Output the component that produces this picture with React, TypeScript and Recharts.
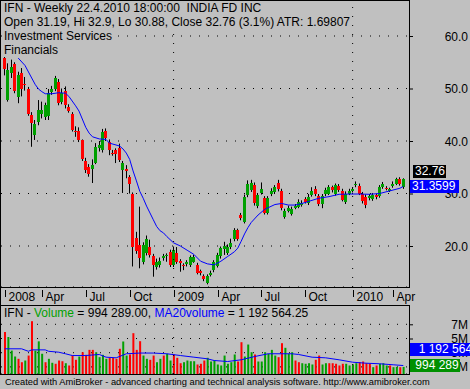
import React from "react";
import {
  ComposedChart,
  Bar,
  Line,
  XAxis,
  YAxis,
  CartesianGrid,
  ReferenceLine,
  Cell,
} from "recharts";

// weekly candles, Jan 2008 .. 22.4.2010
const opens = [
  55.9, 47.9, 53.0, 54.7, 48.4, 53.0, 50.8, 49.85, 44.9, 41.1,
  43.7, 45.1, 44.6, 44.7, 49.3, 49.9, 51.3, 47.5, 49.6, 46.5,
  45.1, 42.0, 42.0, 40.1, 36.1, 35.0, 34.6, 35.9, 38.7, 38.3,
  42.0, 39.9, 37.7, 38.3, 38.7, 34.5, 34.6, 33.2, 29.85, 21.5,
  20.2, 17.0, 18.6, 19.9, 18.1, 16.05, 16.3, 17.65, 18.1, 18.9,
  16.4, 18.7, 17.1, 16.4, 16.5, 16.4, 17.0, 16.4, 15.2, 14.3,
  13.0, 14.5, 15.4, 16.2, 18.0, 19.4, 18.6, 19.75, 21.3, 23.0,
  25.9, 24.6, 29.7, 30.7, 31.6, 27.6, 30.15, 29.1, 26.35, 29.85,
  30.2, 32.05, 30.5, 25.6, 26.7, 26.1, 27.3, 27.5, 27.8, 28.9,
  28.1, 29.7, 30.8, 29.5, 28.0, 29.85, 30.0, 31.2, 29.85, 31.4,
  30.5, 28.4, 30.0, 30.5, 31.75, 31.4, 30.0, 29.4, 29.1, 28.9,
  29.7, 29.5, 31.2, 31.0, 30.55, 31.4, 31.9, 32.7, 31.19,
];
const highs = [
  56.2, 54.8, 55.5, 55.0, 53.2, 53.9, 52.2, 50.3, 45.5, 44.0,
  47.8, 47.5, 47.3, 49.9, 50.5, 52.4, 51.8, 50.0, 50.4, 47.0,
  45.5, 42.8, 42.6, 40.3, 36.8, 35.6, 36.5, 39.6, 40.0, 42.3,
  42.4, 40.3, 38.3, 38.6, 39.5, 36.2, 35.4, 33.5, 30.2, 22.7,
  27.5, 20.7, 22.0, 21.2, 18.5, 17.6, 17.8, 18.5, 18.6, 19.3,
  19.9, 19.8, 17.5, 16.7, 17.3, 18.2, 18.3, 16.8, 15.5, 14.6,
  14.6, 15.3, 17.3, 18.7, 19.9, 20.8, 20.3, 21.4, 23.4, 23.3,
  26.3, 29.8, 32.5, 32.6, 32.1, 30.1, 32.1, 29.5, 29.5, 31.0,
  31.6, 32.6, 30.9, 27.1, 27.7, 27.5, 28.0, 28.9, 28.7, 29.3,
  29.9, 31.2, 31.4, 29.9, 29.9, 31.1, 31.6, 31.5, 31.9, 31.8,
  30.9, 30.4, 30.9, 31.2, 32.3, 31.9, 30.3, 29.8, 29.9, 30.1,
  30.0, 31.6, 32.2, 31.4, 31.1, 32.3, 33.0, 33.1, 32.9,
];
const lows = [
  52.5, 47.5, 52.0, 49.1, 47.2, 48.5, 49.6, 44.8, 38.9, 40.2,
  43.0, 44.3, 44.0, 44.0, 48.8, 49.5, 46.8, 47.0, 46.2, 45.4,
  41.8, 40.8, 39.8, 36.2, 33.9, 33.2, 32.0, 35.6, 38.0, 37.8,
  40.0, 37.3, 37.2, 35.8, 36.0, 30.1, 32.9, 30.0, 16.1, 18.5,
  15.75, 16.5, 18.2, 17.8, 14.15, 15.5, 15.9, 17.2, 17.0, 16.0,
  16.0, 16.6, 15.1, 15.4, 16.1, 16.0, 16.8, 14.6, 14.4, 13.3,
  12.7, 14.2, 15.0, 15.9, 17.6, 18.3, 18.3, 19.4, 20.9, 21.0,
  24.9, 24.3, 29.3, 30.3, 27.7, 27.2, 29.8, 26.0, 26.0, 29.5,
  29.9, 30.4, 26.8, 25.2, 26.4, 25.8, 27.0, 27.2, 27.5, 28.1,
  27.8, 29.4, 29.5, 27.6, 27.2, 29.5, 29.7, 30.2, 29.6, 30.3,
  28.5, 28.0, 29.7, 30.2, 31.2, 29.7, 28.1, 27.2, 28.7, 28.6,
  28.9, 29.2, 30.9, 30.6, 30.3, 31.1, 31.6, 31.5, 30.88,
];
const closes = [
  53.7, 53.5, 54.1, 49.5, 52.6, 49.85, 50.6, 45.1, 43.5, 43.2,
  45.9, 46.0, 46.9, 49.2, 49.9, 52.0, 47.2, 49.2, 46.9, 45.8,
  42.1, 41.7, 40.1, 36.5, 34.5, 33.7, 35.4, 38.9, 39.2, 41.8,
  40.5, 38.3, 37.6, 37.5, 36.4, 35.8, 34.2, 31.9, 19.9, 19.1,
  17.65, 20.2, 21.3, 18.3, 16.4, 16.95, 17.2, 18.1, 18.2, 16.4,
  19.2, 17.0, 16.8, 16.1, 16.9, 17.85, 17.85, 14.9, 14.8, 13.7,
  14.3, 14.9, 17.0, 18.3, 19.55, 20.0, 19.75, 20.6, 23.0, 21.3,
  25.3, 29.4, 31.8, 31.95, 28.1, 29.7, 30.8, 26.35, 29.1, 30.5,
  31.2, 30.8, 27.2, 26.7, 27.2, 27.0, 27.6, 28.45, 28.25, 28.45,
  29.4, 30.5, 29.85, 28.0, 29.5, 30.7, 31.3, 30.6, 31.6, 30.65,
  28.8, 30.0, 30.5, 30.85, 31.8, 30.0, 28.6, 27.8, 29.5, 29.7,
  29.3, 31.3, 31.8, 30.95, 30.8, 31.9, 32.7, 31.8, 32.76,
];
// blue average line as [bar, value]
const maReadings: [number, number][] = [
  [4, 55.8], [6, 54.4], [8, 52.0], [9, 50.8], [10, 49.9], [11, 49.4], [12, 49.0],
  [14, 49.0], [16, 49.2], [18, 49.1], [19, 48.5], [21, 46.7], [22, 45.7], [24, 42.6],
  [25, 41.5], [26, 40.8], [28, 40.4], [30, 40.3], [31, 39.6], [34, 39.05], [35, 38.5],
  [36, 37.7], [37, 36.5], [38, 34.3], [39, 32.4], [40, 30.4], [41, 29.1], [42, 27.6],
  [43, 26.3], [44, 25.0], [45, 23.7], [46, 22.9], [47, 22.5], [48, 21.8], [50, 20.6],
  [52, 20.0], [54, 19.2], [56, 18.4], [58, 17.1], [60, 16.6], [62, 16.4], [64, 17.1],
  [66, 18.0], [68, 18.9], [69, 19.6], [70, 20.9], [71, 22.3], [72, 23.5], [73, 24.5],
  [75, 25.9], [77, 27.0], [78, 27.3], [80, 27.9], [82, 28.1], [84, 27.8], [86, 27.8],
  [88, 28.1], [90, 28.5], [93, 29.1], [96, 29.4], [99, 29.85], [102, 29.9], [105, 29.9],
  [108, 29.85], [111, 30.0], [114, 30.5], [117, 31.0], [118, 31.3599],
];

// volume in millions
const volumes = [
  5.9, 5.2, 3.3, 2.46, 2.14, 1.66, 1.9, 2.6, 7.44, 3.3,
  4.6, 2.85, 1.66, 2.14, 1.58, 1.44, 1.9, 1.8, 1.52, 1.2,
  2.6, 2.0, 2.46, 3.07, 2.7, 3.4, 3.4, 3.07, 2.37, 2.7,
  2.14, 2.28, 2.28, 2.14, 3.55, 4.58, 2.6, 2.75, 5.75, 3.4,
  4.62, 2.6, 2.14, 2.0, 2.6, 1.66, 2.14, 2.6, 2.85, 1.9,
  2.75, 2.28, 1.52, 1.66, 1.9, 1.8, 1.8, 1.34, 1.44, 1.9,
  2.28, 1.76, 1.9, 1.34, 1.2, 2.6, 1.44, 1.66, 2.75, 1.76,
  4.48, 2.46, 4.15, 3.07, 2.75, 1.76, 1.76, 3.07, 2.85, 3.4,
  2.6, 2.37, 4.34, 3.69, 2.85, 3.07, 1.9, 1.66, 1.52, 1.44,
  1.52, 1.34, 2.0, 2.6, 1.34, 1.52, 1.52, 1.52, 1.44, 1.2,
  1.44, 1.44, 1.2, 1.34, 1.52, 1.66, 1.76, 1.52, 1.44, 0.96,
  1.2, 1.44, 1.52, 1.2, 1.2, 0.96, 1.0, 0.96, 0.994289,
];
const volColors = (
  "rgggrrgrrg" + "ggrggrrrgr" + "rrgrrrrggg" + "grrrrggrrr" +
  "rggrrggrgg" + "rrrggggrrr" + "gggggggggr" + "rgggrggggg" +
  "grrgggrrgg" + "ggrrggrrrr" + "rggggrrrrg" + "rgggrggrg"
).split("");
const volMaReadings: [number, number][] = [
  [0, 3.55], [5, 3.55], [7, 3.2], [8, 3.4], [12, 3.4], [13, 3.2], [16, 3.07],
  [18, 2.85], [20, 2.6], [24, 2.6], [28, 2.75], [30, 2.37], [33, 2.28], [36, 2.85],
  [40, 2.95], [44, 2.95], [48, 2.85], [52, 2.6], [56, 2.37], [60, 2.14], [62, 1.9],
  [66, 1.76], [70, 2.0], [74, 2.46], [78, 2.85], [82, 2.85], [85, 2.85], [87, 2.75],
  [91, 2.37], [95, 2.28], [99, 2.0], [103, 1.66], [107, 1.52], [111, 1.44],
  [115, 1.3], [118, 1.19256425],
];

const tickBars = [0, 11, 24, 37, 50, 63, 76, 89, 103, 115];
const tickLabels = ["2008", "Apr", "Jul", "Oct", "2009", "Apr", "Jul", "Oct", "2010", "Apr"];
const yearBars = [50, 103];
const priceTicks = [20, 30, 40, 50, 60];
const volTicks = [1, 3, 5, 7];

const FONT = "'Liberation Sans', Arial, sans-serif";
const BG = "#c0c0c0";
const GREEN = "#00a000";
const RED = "#ff0000";
const BLUE = "#0000ff";

const maMap = new Map(maReadings);
const volMaMap = new Map(volMaReadings);
const rows = opens.map((o, i) => ({
  i,
  o,
  h: highs[i],
  l: lows[i],
  c: closes[i],
  ma: maMap.has(i) ? maMap.get(i) : null,
  v: volumes[i],
  vma: volMaMap.has(i) ? volMaMap.get(i) : null,
}));

function Candle(props: any) {
  const { x, y, width, height, payload } = props;
  const { o, h, l, c } = payload;
  const k = h > l ? height / (h - l) : 0;
  const top = Math.round(y + (h - Math.max(o, c)) * k);
  const bot = Math.round(y + (h - Math.min(o, c)) * k);
  const left = Math.round(x);
  const cx = left + Math.floor(width / 2) + 0.5;
  return (
    <g>
      <line x1={cx} x2={cx} y1={y} y2={y + height} stroke="#000" strokeWidth={1} />
      <rect x={left} y={top} width={width} height={Math.max(1, bot - top)} fill={c >= o ? GREEN : RED} />
    </g>
  );
}

function XTick({ x, y, payload }: any) {
  const label = tickLabels[tickBars.indexOf(payload.value)];
  const tx = Math.round(x) + 0.5;
  return (
    <g>
      <line x1={tx} x2={tx} y1={y + 3} y2={y + 10} stroke="#000" />
      <text x={tx + 3} y={y + 13.5} fontSize={12} fill="#000">{label}</text>
    </g>
  );
}

function PriceTick({ x, y, payload }: any) {
  return (
    <g>
      <line x1={x} x2={x + 4} y1={y + 0.5} y2={y + 0.5} stroke="#000" />
      <text x={x + 59} y={y + 4.5} fontSize={12} textAnchor="end" fill="#000">
        {payload.value.toFixed(1)}
      </text>
    </g>
  );
}

function VolTick({ x, y, payload }: any) {
  return (
    <g>
      <line x1={x} x2={x + 4} y1={y + 0.5} y2={y + 0.5} stroke="#000" />
      <text x={x + 59} y={y + 4.5} fontSize={12} textAnchor="end" fill="#000">
        {payload.value}M
      </text>
    </g>
  );
}

const box = (left: number, top: number, width: number, bg: string, text: string) => (
  <div
    style={{
      position: "absolute", left, top, width, height: 13, background: bg, color: "#fff",
      fontSize: 12, lineHeight: "13px", paddingLeft: 2, boxSizing: "border-box",
      whiteSpace: "pre", overflow: "hidden",
    }}
  >
    {text}
  </div>
);

const label = { background: BG, display: "inline-block" } as const;

export default function App() {
  return (
    <div
      style={{
        position: "absolute", left: 0, top: 0, width: 470, height: 389, background: BG,
        fontFamily: FONT, overflow: "hidden",
      }}
    >
      {/* price panel */}
      <div style={{ position: "absolute", left: 0, top: 0 }}>
        <ComposedChart width={470} height={305} data={rows} margin={{ top: 0, right: 0, bottom: 0, left: 1 }}>
          <CartesianGrid vertical={false} stroke="#000" strokeDasharray="1 8" />
          <XAxis
            dataKey="i" type="category" ticks={tickBars} interval={0} height={18}
            padding={{ left: 2, right: 4 }} tickSize={0} tickMargin={0}
            axisLine={false} tickLine={false} tick={<XTick />}
          />
          <YAxis
            orientation="right" width={61} domain={[12.19, 66.86]} ticks={priceTicks} interval={0}
            tickSize={0} tickMargin={0} axisLine={false} tickLine={false} tick={<PriceTick />}
            allowDataOverflow
          />
          {yearBars.map((b) => (
            <ReferenceLine key={b} x={b} stroke="#000" strokeDasharray="1 8" />
          ))}
          <Bar dataKey={(d: any) => [d.l, d.h]} barSize={3} shape={<Candle />} isAnimationActive={false} />
          <Line dataKey="ma" stroke={BLUE} strokeWidth={1} dot={false} connectNulls isAnimationActive={false} />
        </ComposedChart>
      </div>

      {/* volume panel */}
      <div style={{ position: "absolute", left: 0, top: 305 }}>
        <ComposedChart width={470} height={69} data={rows} margin={{ top: 0, right: 0, bottom: 0, left: 1 }}>
          <CartesianGrid vertical={false} stroke="#000" strokeDasharray="1 8" />
          <XAxis dataKey="i" type="category" hide padding={{ left: 2, right: 4 }} />
          <YAxis
            orientation="right" width={61} domain={[0, 9.72]} ticks={volTicks} interval={0}
            tickSize={0} tickMargin={0} axisLine={false} tickLine={false} tick={<VolTick />}
          />
          {yearBars.map((b) => (
            <ReferenceLine key={b} x={b} stroke="#000" strokeDasharray="1 8" />
          ))}
          <Bar dataKey="v" barSize={2} isAnimationActive={false}>
            {rows.map((r) => (
              <Cell key={r.i} fill={volColors[r.i] === "g" ? GREEN : RED} />
            ))}
          </Bar>
          <Line dataKey="vma" stroke={BLUE} strokeWidth={1} dot={false} connectNulls isAnimationActive={false} />
        </ComposedChart>
      </div>

      {/* panel frames */}
      <div style={{ position: "absolute", left: 0, top: 0, width: 410, height: 288, border: "1px solid #000", boxSizing: "border-box" }} />
      <div style={{ position: "absolute", left: 0, top: 287, width: 1, height: 18, background: "#000" }} />
      <div style={{ position: "absolute", left: 0, top: 305, width: 410, height: 70, border: "1px solid #000", boxSizing: "border-box" }} />

      {/* titles */}
      <div style={{ position: "absolute", left: 4, top: 1, fontSize: 12, lineHeight: "14px", whiteSpace: "pre" }}>
        <div><span style={label}>IFN - Weekly 22.4.2010 18:00:00  INDIA FD INC</span></div>
        <div><span style={label}>Open 31.19, Hi 32.9, Lo 30.88, Close 32.76 (3.1%) ATR: 1.69807</span></div>
        <div><span style={label}>Investment Services</span></div>
        <div><span style={label}>Financials</span></div>
      </div>
      <div style={{ position: "absolute", left: 4, top: 306, fontSize: 12, lineHeight: "14px", whiteSpace: "pre" }}>
        <span style={label}>
          IFN - <span style={{ color: GREEN }}>Volume</span> = 994 289.00,{" "}
          <span style={{ color: BLUE }}>MA20volume</span> = 1 192 564.25
        </span>
      </div>

      {/* last-value boxes */}
      {box(413, 165, 33, "#000", "32.76")}
      {box(410, 180, 49, BLUE, "31.3599")}
      {box(410, 343, 60, BLUE, "  1 192 564")}
      {box(410, 359, 50, "#009000", " 994 289")}

      <div style={{ position: "absolute", left: 5, top: 376, fontSize: 9.3, lineHeight: "12px", whiteSpace: "pre" }}>
        Created with AmiBroker - advanced charting and technical analysis software. http://www.amibroker.com
      </div>
    </div>
  );
}
